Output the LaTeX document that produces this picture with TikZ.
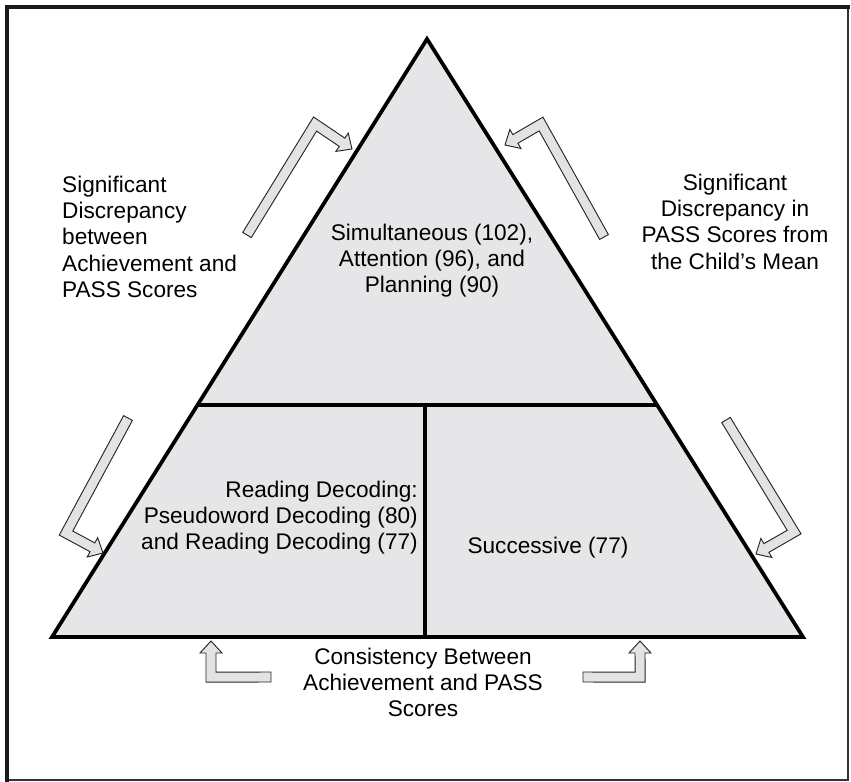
\documentclass[tikz,border=0pt]{standalone}
\usepackage{fontspec}
\setmainfont{Liberation Sans}
\usetikzlibrary{calc}

\definecolor{panelgray}{HTML}{E6E6E8}
\definecolor{arrowgray}{HTML}{E2E3E5}

\tikzset{
  block/.style={fill=panelgray, draw=black, line width=3.2pt, line join=miter},
  divider/.style={draw=black, line width=3.2pt},
  fatarrow/.style={fill=arrowgray, draw=black!85, line width=0.8pt, line join=miter},
  caption/.style={font=\fontsize{19.3}{22.3}\selectfont, inner sep=0pt},
}

% bent block arrow: tail, bend, tip
\newcommand\bentarrow[3]{%
  \coordinate (hb) at ($(#3)!0.36cm!(#2)$);
  \coordinate (tl) at ($(#1)!0.15cm!90:(#2)$);
  \coordinate (tr) at ($(#1)!0.15cm!-90:(#2)$);
  \coordinate (bl1) at ($(#2)!0.15cm!-90:(#1)$);
  \coordinate (br1) at ($(#2)!0.15cm!90:(#1)$);
  \coordinate (bl2) at ($(#2)!0.15cm!90:(hb)$);
  \coordinate (br2) at ($(#2)!0.15cm!-90:(hb)$);
  \coordinate (hl) at ($(hb)!0.15cm!-90:(#2)$);
  \coordinate (hr) at ($(hb)!0.15cm!90:(#2)$);
  \coordinate (wl) at ($(hb)!0.33cm!90:(#3)$);
  \coordinate (wr) at ($(hb)!0.33cm!-90:(#3)$);
  \draw[fatarrow] (tl) -- (intersection of tl--bl1 and bl2--hl) -- (hl) -- (wl) -- (#3)
    -- (wr) -- (hr) -- (intersection of tr--br1 and br2--hr) -- (tr) -- cycle;
}

\begin{document}
\begin{tikzpicture}[x=0.03cm, y=-0.03cm]
  \useasboundingbox (0,0) rectangle (851,781);
  % frame: heavy top and left, lighter bottom and right
  \draw[line width=0.06cm, black!80] (848,6.5) -- (848,779.5) -- (6.5,779.5);
  \draw[line width=0.12cm, black!90, line cap=rect] (6.5,779.5) -- (6.5,6.5) -- (848,6.5);

  % the triangle and its three panels
  \coordinate (apex) at (427,39);
  \coordinate (baseL) at (52,637);
  \coordinate (baseR) at (803,637);
  \coordinate (midL) at (intersection of apex--baseL and 0,405--10,405);
  \coordinate (midR) at (intersection of apex--baseR and 0,405--10,405);
  \coordinate (splitT) at (425,405);
  \coordinate (splitB) at (425,637);
  \draw[block] (apex) -- (baseL) -- (baseR) -- cycle;
  \draw[divider] (midL) -- (midR);
  \draw[divider] (splitT) -- (splitB);

  \node[caption, align=center, anchor=north] (upper) at (432,224)
    {Simultaneous (102),\\Attention (96), and\\Planning (90)};
  \node[caption, align=right, anchor=north east] (lowerL) at (418,481)
    {Reading Decoding:\\Pseudoword Decoding (80)\\and Reading Decoding (77)};
  \node[caption, anchor=base] (lowerR) at (548,553) {Successive (77)};

  % side captions
  \node[caption, align=left, anchor=north west] (leftcap) at (62,176)
    {Significant\\Discrepancy\\between\\Achievement and\\PASS Scores};
  \node[caption, align=center, anchor=north] (rightcap) at (735,174)
    {Significant\\Discrepancy in\\PASS Scores from\\the Child's Mean};
  \node[caption, align=center, anchor=north] (bottomcap) at (423,648)
    {Consistency Between\\Achievement and PASS\\Scores};

  % block arrows
  \coordinate (ulTail) at (247,235); \coordinate (ulBend) at (315,124); \coordinate (ulTip) at (352,149);
  \coordinate (urTail) at (604,237); \coordinate (urBend) at (541,124); \coordinate (urTip) at (505,145);
  \coordinate (llTail) at (128,418); \coordinate (llBend) at (66,533);  \coordinate (llTip) at (103,553);
  \coordinate (lrTail) at (726,420); \coordinate (lrBend) at (794,532); \coordinate (lrTip) at (756,554);
  \coordinate (blTail) at (271,677); \coordinate (blBend) at (211,677); \coordinate (blTip) at (211,641);
  \coordinate (brTail) at (583,677); \coordinate (brBend) at (640,677); \coordinate (brTip) at (640,641);
  \bentarrow{ulTail}{ulBend}{ulTip}
  \bentarrow{urTail}{urBend}{urTip}
  \bentarrow{llTail}{llBend}{llTip}
  \bentarrow{lrTail}{lrBend}{lrTip}
  \bentarrow{blTail}{blBend}{blTip}
  \bentarrow{brTail}{brBend}{brTip}
\end{tikzpicture}
\end{document}
